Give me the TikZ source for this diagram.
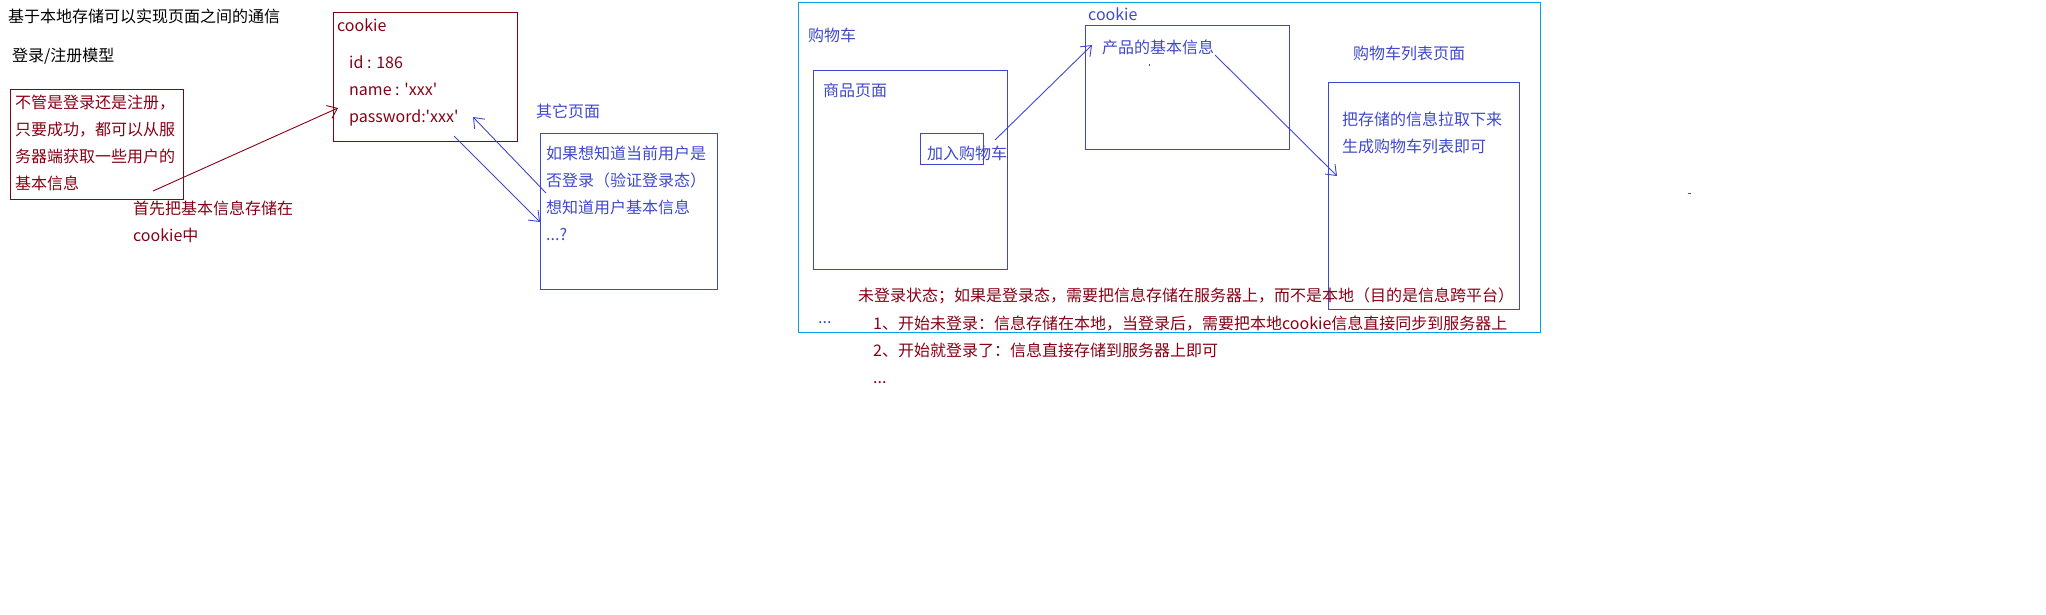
\documentclass[tikz,border=0pt]{standalone}
\usepackage{fontspec}
\usepackage{xcolor}
\usepackage{tikz}
\usetikzlibrary{positioning, arrows.meta}
\newfontfamily\cjk{Noto Sans CJK SC}
\definecolor{darkmaroon}{HTML}{880015}
\definecolor{paintindigo}{HTML}{3F48CC}
\definecolor{paintcyan}{HTML}{00A2E8}

\tikzset{
    notetext/.style={anchor=west, inner sep=0pt, align=left,
                     font=\cjk\fontsize{16pt}{27pt}\selectfont},
    pagebox/.style={anchor=north west, inner sep=0pt, line width=1.2pt},
    flowarrow/.style={line width=0.9pt, -{Straight Barb[length=9pt, width=14pt]}}
}

\begin{document}
\begin{tikzpicture}[x=1pt, y=-1pt]
    \useasboundingbox (0,0) rectangle (2046,615);

    \node[notetext] (title) at (8,16) {基于本地存储可以实现页面之间的通信};
    \node[notetext] (model) at (12,56) {登录/注册模型};

    \node[pagebox, draw=darkmaroon, minimum width=173pt, minimum height=110pt] (loginbox) at (10,89) {};
    \node[notetext, text=darkmaroon] (logintext) at (15,143)
        {不管是登录还是注册，\\只要成功，都可以从服\\务器端获取一些用户的\\基本信息};
    \node[notetext, text=darkmaroon] (savenote) at (133,221.5) {首先把基本信息存储在\\cookie中};

    \node[pagebox, draw=darkmaroon, minimum width=184pt, minimum height=129pt] (cookiebox) at (333,12) {};
    \node[notetext, text=darkmaroon] (cookietitle) at (337,25) {cookie};
    \node[notetext, text=darkmaroon] (cookiefields) at (349,90.5)
        {id : 186\\name : 'xxx'\\password:'xxx'};

    \node[notetext, text=paintindigo] (otherpage) at (536,111) {其它页面};
    \node[pagebox, draw=paintindigo, minimum width=177pt, minimum height=156pt] (otherbox) at (540,133) {};
    \node[notetext, text=paintindigo] (othertext) at (546,193)
        {如果想知道当前用户是\\否登录（验证登录态）\\想知道用户基本信息\\...?};

    \coordinate (saveFrom) at (153,191);
    \coordinate (saveTo) at (338,108);
    \coordinate (readFrom) at (546,193);
    \coordinate (readTo) at (473,117);
    \coordinate (sendFrom) at (454,136);
    \coordinate (sendTo) at (540,222);
    \draw[flowarrow, darkmaroon] (saveFrom) -- (saveTo);
    \draw[flowarrow, paintindigo] (readFrom) -- (readTo);
    \draw[flowarrow, paintindigo] (sendFrom) -- (sendTo);

    \node[pagebox, draw=paintcyan, minimum width=742pt, minimum height=330pt] (cartarea) at (798,2) {};
    \node[notetext, text=paintindigo] (carttitle) at (808,35) {购物车};

    \node[pagebox, draw=paintindigo, minimum width=194pt, minimum height=199pt] (goodsbox) at (813,70) {};
    \node[notetext, text=paintindigo] (goodstitle) at (823,90) {商品页面};
    \node[pagebox, draw=paintindigo, minimum width=63pt, minimum height=31pt] (addbox) at (920,133) {};
    \node[notetext, text=paintindigo] (addtext) at (927,153) {加入购物车};

    \node[notetext, text=paintindigo] (cookielabel) at (1088,14) {cookie};
    \node[pagebox, draw=paintindigo, minimum width=204pt, minimum height=124pt] (storebox) at (1085,25) {};
    \node[notetext, text=paintindigo] (storetext) at (1102,47) {产品的基本信息};
    \fill[paintindigo] (1148.5,64) rectangle (1149.5,66);

    \node[notetext, text=paintindigo] (listtitle) at (1353,53) {购物车列表页面};
    \node[pagebox, draw=paintindigo, minimum width=191pt, minimum height=227pt] (listbox) at (1328,82) {};
    \node[notetext, text=paintindigo] (listtext) at (1342,132.5)
        {把存储的信息拉取下来\\生成购物车列表即可};

    \coordinate (addFrom) at (995,140);
    \coordinate (addTo) at (1092,45);
    \coordinate (pullFrom) at (1215,55);
    \coordinate (pullTo) at (1337,176);
    \draw[flowarrow, paintindigo] (addFrom) -- (addTo);
    \draw[flowarrow, paintindigo] (pullFrom) -- (pullTo);

    \node[notetext, text=paintindigo] (moredots) at (818,323) {...};
    \node[notetext, text=darkmaroon] (statenote) at (858,296)
        {未登录状态；如果是登录态，需要把信息存储在服务器上，而不是本地（目的是信息跨平台）};
    \node[notetext, text=darkmaroon] (statecases) at (873,350)
        {1、开始未登录：信息存储在本地，当登录后，需要把本地cookie信息直接同步到服务器上\\2、开始就登录了：信息直接存储到服务器上即可\\...};

    \fill[paintindigo] (1688,192.5) rectangle (1691,193.5);
\end{tikzpicture}
\end{document}
